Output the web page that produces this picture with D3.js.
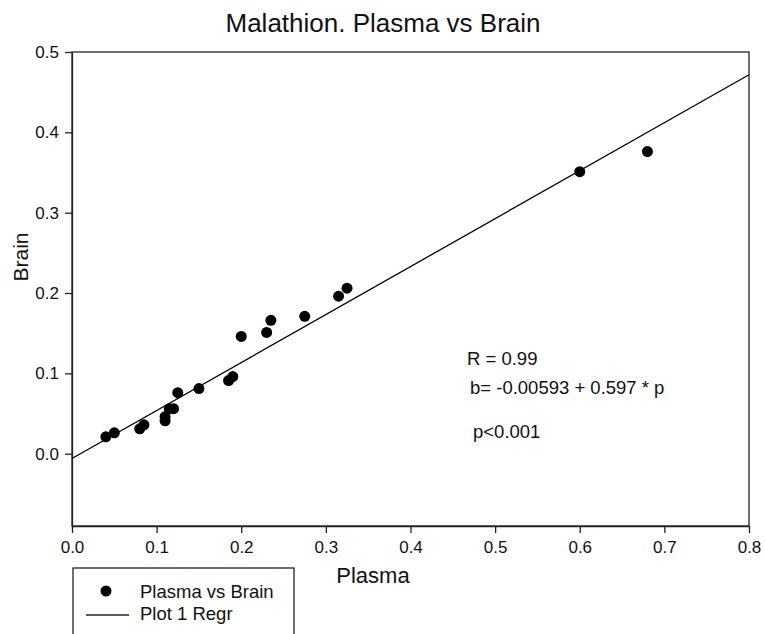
<!DOCTYPE html>
<html>
<head>
<meta charset="utf-8">
<script src="https://cdn.jsdelivr.net/npm/d3@7"></script>
<style>
  body { margin: 0; background: #fff; }
  svg { display: block; font-family: "Liberation Sans", Arial, sans-serif; }
</style>
</head>
<body>
<svg id="chart" width="765" height="634"></svg>
<script>
// Plasma (x) and Brain (y) concentrations
const plasma = [0.04, 0.05, 0.08, 0.085, 0.11, 0.11, 0.115, 0.12, 0.125, 0.15,
                0.185, 0.19, 0.2, 0.23, 0.235, 0.275, 0.315, 0.325, 0.6, 0.68];
const brain = [0.021, 0.026, 0.031, 0.036, 0.041, 0.046, 0.056, 0.056, 0.076, 0.081,
               0.091, 0.096, 0.146, 0.151, 0.166, 0.171, 0.196, 0.206, 0.351, 0.376];

// regression: b = -0.00593 + 0.597 * p
const intercept = -0.00593;
const slope = 0.597;

const xTicks = [0, 0.1, 0.2, 0.3, 0.4, 0.5, 0.6, 0.7, 0.8];
const yTicks = [0, 0.1, 0.2, 0.3, 0.4, 0.5];
const annotations = ["R = 0.99", "b= -0.00593 + 0.597 * p", "p<0.001"];
const legendLabels = ["Plasma vs Brain", "Plot 1 Regr"];

const svg = d3.select("#chart");

const plotLeft = 72, plotRight = 749, plotTop = 52, plotBottom = 526;

const x = d3.scaleLinear().domain([0, 0.8]).range([plotLeft, plotRight]);
const y = d3.scaleLinear().domain([-0.09, 0.5]).range([plotBottom, plotTop]);

// frame
svg.append("rect")
  .attr("x", plotLeft).attr("y", plotTop)
  .attr("width", plotRight - plotLeft).attr("height", plotBottom - plotTop)
  .attr("fill", "none").attr("stroke", "#222").attr("stroke-width", 1.3);

// axes
const xAxis = svg.append("g")
  .attr("transform", "translate(0," + plotBottom + ")")
  .call(d3.axisBottom(x).tickValues(xTicks).tickFormat(d3.format(".1f"))
    .tickSizeInner(7).tickSizeOuter(0).tickPadding(8));
const yAxis = svg.append("g")
  .attr("transform", "translate(" + plotLeft + ",0)")
  .call(d3.axisLeft(y).tickValues(yTicks).tickFormat(d3.format(".1f"))
    .tickSizeInner(7).tickSizeOuter(0).tickPadding(6));

[xAxis, yAxis].forEach(function (ax) {
  ax.select(".domain").attr("stroke", "#222").attr("stroke-width", 1.3);
  ax.selectAll(".tick line").attr("stroke", "#222").attr("stroke-width", 1.3);
  ax.selectAll(".tick text")
    .attr("fill", "#111")
    .style("font-size", "17px")
    .style("font-family", "'Liberation Sans', Arial, sans-serif");
});

// regression line
const regLine = d3.line()
  .x(function (d) { return x(d); })
  .y(function (d) { return y(intercept + slope * d); });

svg.append("path")
  .datum([0, 0.8])
  .attr("d", regLine)
  .attr("fill", "none")
  .attr("stroke", "#000")
  .attr("stroke-width", 1.3);

// scatter points
svg.append("g")
  .selectAll("circle")
  .data(plasma.map(function (p, i) { return [p, brain[i]]; }))
  .join("circle")
  .attr("cx", function (d) { return x(d[0]); })
  .attr("cy", function (d) { return y(d[1]); })
  .attr("r", 5.5)
  .attr("fill", "#000");

// title
svg.append("text")
  .attr("x", 383).attr("y", 32)
  .attr("text-anchor", "middle")
  .attr("font-size", "26px")
  .attr("fill", "#111")
  .text("Malathion. Plasma vs Brain");

// axis titles
svg.append("text")
  .attr("x", 373).attr("y", 583)
  .attr("text-anchor", "middle")
  .attr("font-size", "22px")
  .attr("fill", "#111")
  .text("Plasma");

svg.append("text")
  .attr("transform", "translate(28,257) rotate(-90)")
  .attr("text-anchor", "middle")
  .attr("font-size", "21px")
  .attr("fill", "#111")
  .text("Brain");

// annotations
const annX = [467, 470, 473];
const annY = [365, 394, 438];
svg.append("g")
  .selectAll("text")
  .data(annotations)
  .join("text")
  .attr("x", function (d, i) { return annX[i]; })
  .attr("y", function (d, i) { return annY[i]; })
  .attr("font-size", "18.5px")
  .attr("fill", "#111")
  .text(function (d) { return d; });

// legend
const lg = svg.append("g");
lg.append("rect")
  .attr("x", 73).attr("y", 568)
  .attr("width", 221).attr("height", 100)
  .attr("fill", "#fff").attr("stroke", "#222").attr("stroke-width", 1.3);
lg.append("circle")
  .attr("cx", 106).attr("cy", 591).attr("r", 5.5).attr("fill", "#000");
lg.append("line")
  .attr("x1", 86).attr("x2", 129).attr("y1", 615).attr("y2", 615)
  .attr("stroke", "#222").attr("stroke-width", 1.3);
lg.selectAll("text.lbl")
  .data(legendLabels)
  .join("text")
  .attr("class", "lbl")
  .attr("x", 140)
  .attr("y", function (d, i) { return 598 + i * 22; })
  .attr("font-size", "18.5px")
  .attr("fill", "#111")
  .text(function (d) { return d; });
</script>
</body>
</html>
